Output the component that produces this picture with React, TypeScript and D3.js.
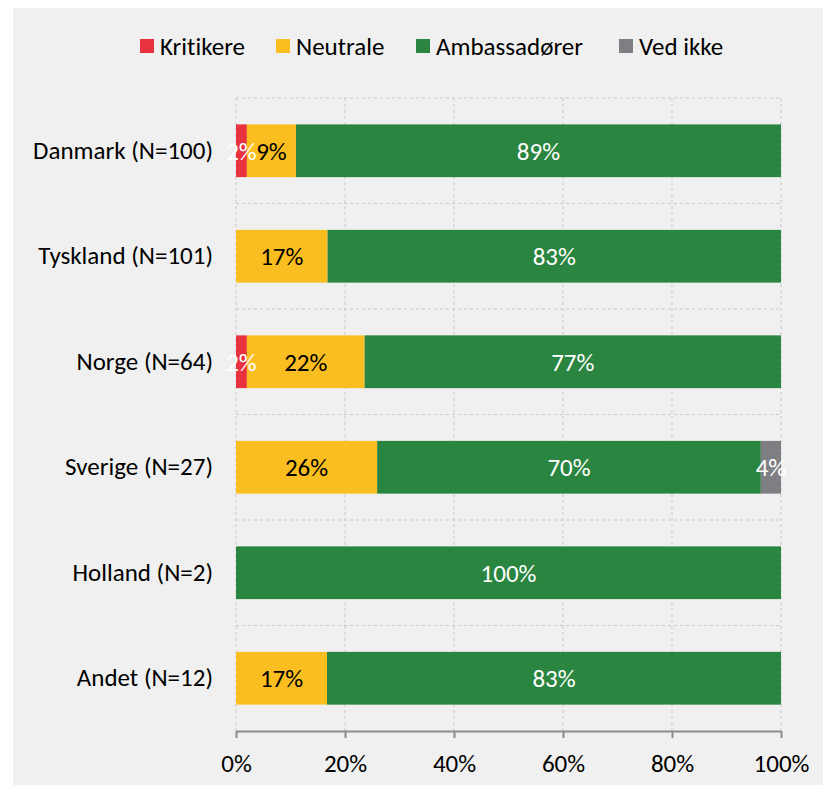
import React, { useRef, useEffect } from 'react';
import * as d3 from 'd3';

const categories = ['Danmark (N=100)', 'Tyskland (N=101)', 'Norge (N=64)', 'Sverige (N=27)', 'Holland (N=2)', 'Andet (N=12)'];
const seriesNames = ['Kritikere', 'Neutrale', 'Ambassadører', 'Ved ikke'];
const kritikere = [2, 0, 2, 0, 0, 0];
const neutrale = [9, 16.8, 21.6, 25.9, 0, 16.7];
const ambassadorer = [89, 83.2, 76.5, 70.4, 100, 83.3];
const vedIkke = [0, 0, 0, 3.7, 0, 0];
const xTicks = [0, 20, 40, 60, 80, 100];

const colors = ['#e8323f', '#fbbe20', '#2a8540', '#7f7f83'];
const labelColors = ['#ffffff', '#000000', '#ffffff', '#ffffff'];
const FONT = "Carlito, Calibri, 'Open Sans', sans-serif";
const FS = 25;

const Chart = () => {
  const svgRef = useRef(null);
  useEffect(() => {
    const svg = d3.select(svgRef.current);
    svg.selectAll('*').remove();
    svg.style('font-variant-ligatures', 'none');

    const values = [kritikere, neutrale, ambassadorer, vedIkke];
    const rows = categories.map((c, i) => {
      const r: any = { cat: c };
      seriesNames.forEach((s, j) => (r[s] = values[j][i]));
      return r;
    });
    const stacked = d3.stack().keys(seriesNames)(rows);

    const x = d3.scaleLinear().domain([0, 100]).range([236, 781]);
    const y = d3.scaleBand().domain(categories).range([98, 731]).paddingInner(0.5).paddingOuter(0.25);

    svg.append('rect').attr('x', 13).attr('y', 7).attr('width', 818).attr('height', 786).attr('fill', '#f0f0f0');

    // grid
    const grid = svg.append('g').attr('stroke', '#c9c9c9').attr('stroke-width', 1).attr('stroke-dasharray', '3,3');
    grid.selectAll('line.v').data(xTicks).join('line')
      .attr('x1', d => x(d)).attr('x2', d => x(d)).attr('y1', 98).attr('y2', 731);
    const bounds = categories.map(c => (y(c) as number) - y.step() * 0.25);
    grid.selectAll('line.h').data(bounds).join('line')
      .attr('x1', 236).attr('x2', 781).attr('y1', d => d).attr('y2', d => d);

    // bars
    stacked.forEach((layer, j) => {
      svg.append('g').attr('fill', colors[j]).selectAll('rect').data(layer.filter(d => d[1] - d[0] > 0)).join('rect')
        .attr('x', d => x(d[0])).attr('width', d => Math.min(x(d[1]), 781) - x(d[0]))
        .attr('y', d => y(d.data.cat) as number).attr('height', y.bandwidth());
    });
    stacked.forEach((layer, j) => {
      svg.append('g').selectAll('text').data(layer.filter(d => d[1] - d[0] > 0)).join('text')
        .attr('x', d => (x(d[0]) + Math.min(x(d[1]), 781)) / 2)
        .attr('y', d => (y(d.data.cat) as number) + y.bandwidth() / 2)
        .attr('dy', '0.35em').attr('text-anchor', 'middle')
        .attr('fill', labelColors[j]).attr('font-size', FS).attr('font-family', FONT)
        .text(d => Math.round(d[1] - d[0]) + '%');
    });

    // axes
    const xAxis = svg.append('g').attr('transform', 'translate(0,731)')
      .call(d3.axisBottom(x).tickValues(xTicks).tickSize(7).tickSizeOuter(0).tickFormat(d => d + '%'));
    xAxis.select('.domain').attr('stroke', '#8c8c8c').attr('stroke-width', 2);
    xAxis.selectAll('.tick line').attr('stroke', '#8c8c8c').attr('stroke-width', 2);
    xAxis.selectAll('.tick text').attr('font-size', FS).attr('font-family', FONT).attr('fill', '#000')
      .attr('y', 32).attr('dy', '0.35em');

    const yAxis = svg.append('g').attr('transform', 'translate(236,0)')
      .call(d3.axisLeft(y).tickSize(0).tickPadding(23));
    yAxis.select('.domain').remove();
    yAxis.selectAll('.tick text').attr('font-size', FS).attr('font-family', FONT).attr('fill', '#000');

    // legend
    const legendX = [140, 276, 416, 619];
    const legend = svg.append('g').selectAll('g').data(seriesNames).join('g')
      .attr('transform', (d, i) => `translate(${legendX[i]},46)`);
    legend.append('rect').attr('x', 0).attr('y', -7).attr('width', 14).attr('height', 14).attr('fill', (d, i) => colors[i]);
    legend.append('text').attr('x', 20).attr('dy', '0.35em').attr('font-size', FS).attr('font-family', FONT).text(d => d);
  }, []);

  return <svg ref={svgRef} width={831} height={793} style={{ display: 'block' }} />;
};

export default function App() {
  return (
    <div style={{ margin: -8 }}>
      <Chart />
    </div>
  );
}
